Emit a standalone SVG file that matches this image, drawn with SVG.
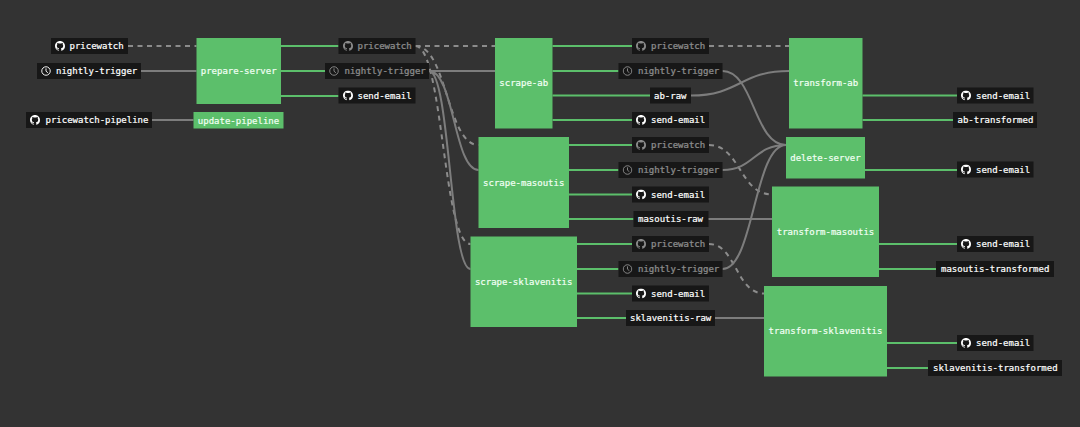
<svg xmlns="http://www.w3.org/2000/svg" width="1080" height="427" viewBox="0 0 1080 427">
<style>
text{font-family:"DejaVu Sans Mono","Liberation Mono",monospace;font-size:9px;fill:#fff;stroke:#fff;stroke-width:.2}
.n rect{fill:#5cbf6b}
.n text{text-anchor:middle;fill:#f2fff4;stroke:#f2fff4}
.l rect{fill:#171717}
.d text,.d use{opacity:.5}
.e{fill:none;stroke-width:2}
.g{stroke:#5cbf6b}
.s{stroke:#7d7d7d}
.a{stroke:#8c8c8c;stroke-dasharray:5 4.5}
</style>
<defs>
<symbol id="gh" viewBox="0 0 16 16"><path fill="#fff" d="M8 0C3.58 0 0 3.58 0 8c0 3.54 2.29 6.53 5.47 7.59.4.07.55-.17.55-.38 0-.19-.01-.82-.01-1.49-2.01.37-2.53-.49-2.69-.94-.09-.23-.48-.94-.82-1.13-.28-.15-.68-.52-.01-.53.63-.01 1.08.58 1.23.82.72 1.21 1.87.87 2.33.66.07-.52.28-.87.51-1.07-1.78-.2-3.64-.89-3.64-3.95 0-.87.31-1.59.82-2.15-.08-.2-.36-1.02.08-2.12 0 0 .67-.21 2.2.82.64-.18 1.32-.27 2-.27s1.36.09 2 .27c1.53-1.04 2.2-.82 2.2-.82.44 1.1.16 1.92.08 2.12.51.56.82 1.27.82 2.15 0 3.07-1.87 3.75-3.65 3.95.29.25.54.73.54 1.48 0 1.07-.01 1.93-.01 2.2 0 .21.15.46.55.38A8.013 8.013 0 0016 8c0-4.42-3.58-8-8-8z"/></symbol>
<symbol id="ck" viewBox="0 0 16 16"><circle cx="8" cy="8" r="6.8" fill="none" stroke="#fff" stroke-width="1.5"/><path d="M8 3.8V8.3L11 10.8" fill="none" stroke="#fff" stroke-width="1.5"/></symbol>
</defs>
<rect width="1080" height="427" fill="#333"/>
<g id="connectors" class="e">
<path class="e a" d="M128 46H196.5M415.5 46H495M709 46H789"/>
<path class="e s" d="M141 71H196.5M152 120H193.5M429 71H495M708 219H772M715 318H764"/>
<path class="e a" d="M415.5 46C447 46 447 145 478.5 145M415.5 46C443 46 443 244 470.5 244M709 145C740 145 740 194.5 772 194.5M709 244C736 244 736 293.5 764 293.5"/>
<path class="e s" d="M429 71C454 71 454 170 478.5 170M429 71C450 71 450 269 470.5 269M722.5 71C754 71 754 145 786 145M691 95.5C740 95.5 740 71 789 71M722.5 170C754 170 754 145 786 145M722.5 269C754 269 754 145 786 145"/>
<path class="e g" d="M281 46H338.5M281 71H325M281 96H338.5M552.5 46H632M552.5 71H618.5M552.5 95.5H650M552.5 120H632M569 145H632M569 170H618.5M569 194.5H632M569 219H633.5M577 244H632M577 269H618.5M577 293.5H632M577 318H626M862.5 95.5H957M862.5 120H953M865 170H957M879 244H957M879 269H936M887 343H957M887 368H928"/>
</g>
<g id="prepare-server" class="n"><rect x="196.5" y="38" width="84.5" height="66"/><text x="238.7" y="73.5">prepare-server</text></g>
<g id="update-pipeline" class="n"><rect x="193.5" y="112" width="90" height="16.5"/><text x="238.5" y="123.5">update-pipeline</text></g>
<g id="scrape-ab" class="n"><rect x="495" y="38" width="57.5" height="90.5"/><text x="523.7" y="86">scrape-ab</text></g>
<g id="scrape-masoutis" class="n"><rect x="478.5" y="137" width="90.5" height="91"/><text x="523.7" y="185.5">scrape-masoutis</text></g>
<g id="scrape-sklavenitis" class="n"><rect x="470.5" y="236.5" width="106.5" height="90.5"/><text x="523.7" y="284.5">scrape-sklavenitis</text></g>
<g id="transform-ab" class="n"><rect x="789" y="38" width="73.5" height="90.5"/><text x="825.7" y="86">transform-ab</text></g>
<g id="delete-server" class="n"><rect x="786" y="137" width="79" height="41.5"/><text x="825.5" y="160.5">delete-server</text></g>
<g id="transform-masoutis" class="n"><rect x="772" y="186.5" width="107" height="90.5"/><text x="825.5" y="234.5">transform-masoutis</text></g>
<g id="transform-sklavenitis" class="n"><rect x="764" y="286" width="123" height="90.5"/><text x="825.5" y="334">transform-sklavenitis</text></g>

<g id="l-pricewatch-0" class="l"><rect x="51" y="38" width="77" height="16"/><use href="#gh" x="55" y="41" width="10" height="10"/><text x="69.5" y="49">pricewatch</text></g>
<g id="l-nightly-0" class="l"><rect x="37" y="63" width="104" height="16"/><use href="#ck" x="41" y="66" width="10" height="10"/><text x="56" y="74">nightly-trigger</text></g>
<g id="l-pipeline" class="l"><rect x="26" y="112" width="126" height="16"/><use href="#gh" x="30" y="115" width="10" height="10"/><text x="45.5" y="123">pricewatch-pipeline</text></g>

<g id="l-pricewatch-1" class="l d"><rect x="338.5" y="38" width="77" height="16"/><use href="#gh" x="343" y="41" width="10" height="10"/><text x="357.5" y="49">pricewatch</text></g>
<g id="l-nightly-1" class="l d"><rect x="325" y="63" width="104" height="16"/><use href="#ck" x="329" y="66" width="10" height="10"/><text x="344.5" y="74">nightly-trigger</text></g>
<g id="l-email-1" class="l"><rect x="338.5" y="87.5" width="77" height="16"/><use href="#gh" x="343" y="90.5" width="10" height="10"/><text x="357.5" y="98.5">send-email</text></g>

<g id="l-pricewatch-2" class="l d"><rect x="632" y="38" width="77" height="16"/><use href="#gh" x="636" y="41" width="10" height="10"/><text x="651" y="49">pricewatch</text></g>
<g id="l-nightly-2" class="l d"><rect x="618.5" y="63" width="104" height="16"/><use href="#ck" x="622.5" y="66" width="10" height="10"/><text x="638" y="74">nightly-trigger</text></g>
<g id="l-ab-raw" class="l"><rect x="650" y="87.5" width="41" height="16"/><text x="654" y="98.5">ab-raw</text></g>
<g id="l-email-2" class="l"><rect x="632" y="112" width="77" height="16"/><use href="#gh" x="636" y="115" width="10" height="10"/><text x="651" y="123">send-email</text></g>

<g id="l-pricewatch-3" class="l d"><rect x="632" y="137" width="77" height="16"/><use href="#gh" x="636" y="140" width="10" height="10"/><text x="651" y="148">pricewatch</text></g>
<g id="l-nightly-3" class="l d"><rect x="618.5" y="162" width="104" height="16"/><use href="#ck" x="622.5" y="165" width="10" height="10"/><text x="638" y="173">nightly-trigger</text></g>
<g id="l-email-3" class="l"><rect x="632" y="186.5" width="77" height="16"/><use href="#gh" x="636" y="189.5" width="10" height="10"/><text x="651" y="197.5">send-email</text></g>
<g id="l-masoutis-raw" class="l"><rect x="633.5" y="211" width="75" height="16"/><text x="638" y="222">masoutis-raw</text></g>

<g id="l-pricewatch-4" class="l d"><rect x="632" y="236" width="77" height="16"/><use href="#gh" x="636" y="239" width="10" height="10"/><text x="651" y="247">pricewatch</text></g>
<g id="l-nightly-4" class="l d"><rect x="618.5" y="261" width="104" height="16"/><use href="#ck" x="622.5" y="264" width="10" height="10"/><text x="638" y="272">nightly-trigger</text></g>
<g id="l-email-4" class="l"><rect x="632" y="285.5" width="77" height="16"/><use href="#gh" x="636" y="288.5" width="10" height="10"/><text x="651" y="296.5">send-email</text></g>
<g id="l-sklavenitis-raw" class="l"><rect x="626" y="310" width="89" height="16"/><text x="630" y="321">sklavenitis-raw</text></g>

<g id="l-email-5" class="l"><rect x="957" y="87.5" width="76.5" height="16"/><use href="#gh" x="961" y="90.5" width="10" height="10"/><text x="976" y="98.5">send-email</text></g>
<g id="l-ab-transformed" class="l"><rect x="953" y="112" width="84" height="16"/><text x="957.5" y="123">ab-transformed</text></g>
<g id="l-email-6" class="l"><rect x="957" y="161.5" width="76.5" height="16"/><use href="#gh" x="961" y="164.5" width="10" height="10"/><text x="976" y="172.5">send-email</text></g>
<g id="l-email-7" class="l"><rect x="957" y="236" width="76.5" height="16"/><use href="#gh" x="961" y="239" width="10" height="10"/><text x="976" y="247">send-email</text></g>
<g id="l-masoutis-transformed" class="l"><rect x="936" y="261" width="118" height="16"/><text x="941" y="272">masoutis-transformed</text></g>
<g id="l-email-8" class="l"><rect x="957" y="335" width="76.5" height="16"/><use href="#gh" x="961" y="338" width="10" height="10"/><text x="976" y="346">send-email</text></g>
<g id="l-sklavenitis-transformed" class="l"><rect x="928" y="360" width="134" height="16"/><text x="933" y="371">sklavenitis-transformed</text></g>
</svg>
